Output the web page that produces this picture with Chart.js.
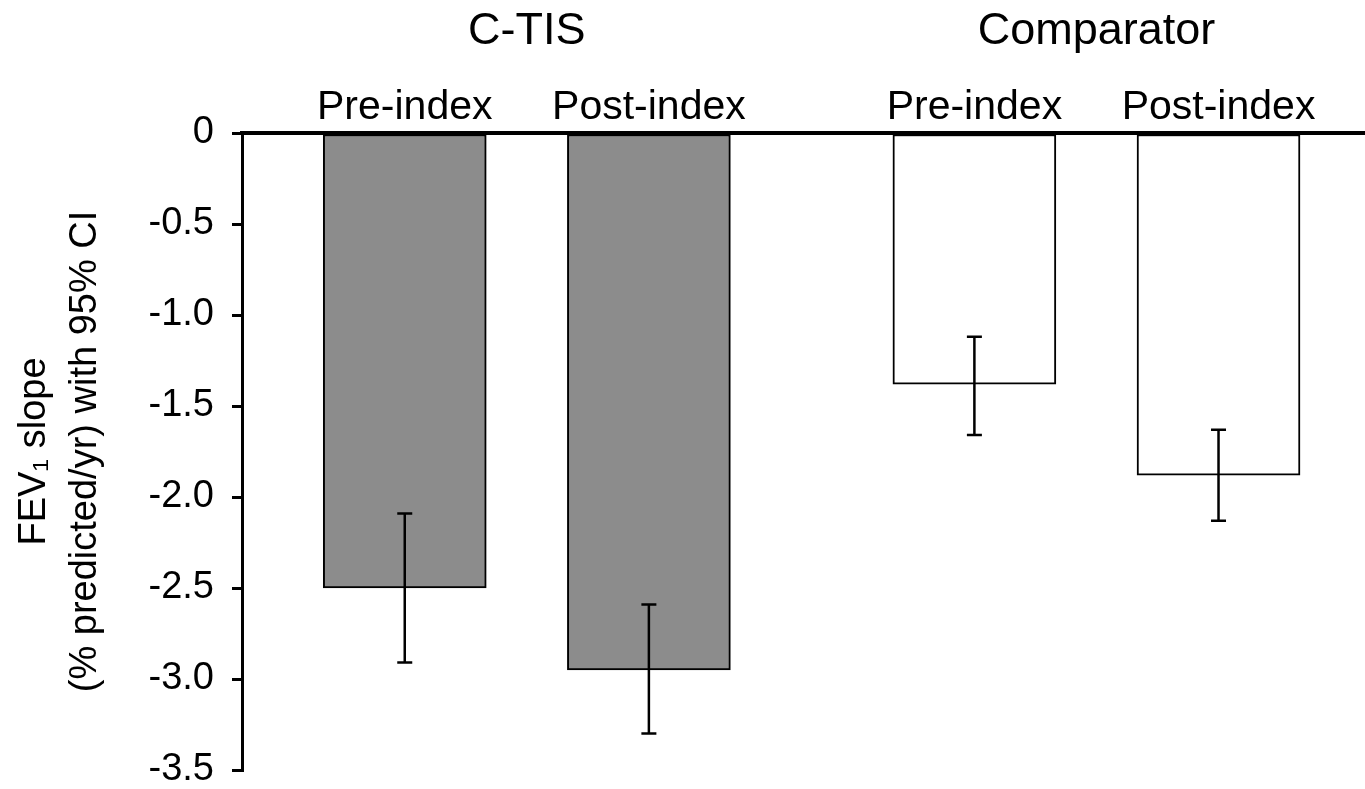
<!DOCTYPE html>
<html>
<head>
<meta charset="utf-8">
<script src="https://cdn.jsdelivr.net/npm/chart.js@4"></script>
<style>
  html, body { margin: 0; padding: 0; background: #fff; }
  #wrap { width: 1365px; height: 789px; }
</style>
</head>
<body>
<div id="wrap"><canvas id="fev-chart"></canvas></div>
<script>
// data
const groups = ['C-TIS', 'Comparator'];
const periods = ['Pre-index', 'Post-index', 'Pre-index', 'Post-index'];
const slope = [-2.50, -2.95, -1.38, -1.88];
const ciLow = [-2.91, -3.30, -1.66, -2.13];
const ciHigh = [-2.09, -2.59, -1.12, -1.63];
const yTicks = [0, -0.5, -1.0, -1.5, -2.0, -2.5, -3.0, -3.5];

// slot layout on the x scale (bars in pairs, gap between groups)
const slots = [2, 5, 9, 12];
const groupSlots = [3.5, 10.5];
const fills = ['#8c8c8c', '#8c8c8c', '#ffffff', '#ffffff'];

const font = 'Liberation Sans, Arial, Helvetica, sans-serif';

const errorBars = {
    id: 'errorBars',
    afterDatasetsDraw(chart) {
        const ctx = chart.ctx;
        const y = chart.scales.y;
        const bars = chart.getDatasetMeta(0).data;
        ctx.save();
        ctx.strokeStyle = '#000';
        ctx.lineWidth = 2.5;
        bars.forEach((bar, i) => {
            const top = y.getPixelForValue(ciHigh[i]);
            const bot = y.getPixelForValue(ciLow[i]);
            ctx.beginPath();
            ctx.moveTo(bar.x, top);
            ctx.lineTo(bar.x, bot);
            ctx.moveTo(bar.x - 7.5, top);
            ctx.lineTo(bar.x + 7.5, top);
            ctx.moveTo(bar.x - 7.5, bot);
            ctx.lineTo(bar.x + 7.5, bot);
            ctx.stroke();
        });
        ctx.restore();
    }
};

let ctx = document.getElementById('fev-chart').getContext('2d');
// eslint-disable-next-line no-undef
new Chart(ctx, {
    type: 'bar',
    data: {
        datasets: [{
            data: slots.map((s, i) => ({ x: s, y: slope[i] })),
            backgroundColor: fills,
            borderColor: '#000',
            borderWidth: 2,
            borderSkipped: false,
            barThickness: 163
        }]
    },
    options: {
        responsive: true,
        maintainAspectRatio: false,
        animation: false,
        layout: { padding: { top: 0, right: 0, bottom: 19, left: 0 } },
        plugins: {
            legend: { display: false },
            tooltip: { enabled: false }
        },
        scales: {
            x: {
                type: 'linear',
                position: 'top',
                min: 0,
                max: 13.8,
                offset: false,
                weight: 0,
                afterBuildTicks: axis => { axis.ticks = slots.map(v => ({ value: v })); },
                afterFit: axis => { axis.height = 48; },
                ticks: {
                    autoSkip: false,
                    maxRotation: 0,
                    padding: 1,
                    color: '#000',
                    font: { family: font, size: 41 },
                    callback: (v, i) => periods[i]
                },
                grid: { display: false, drawTicks: false },
                border: { display: true, color: '#000', width: 4 }
            },
            x2: {
                type: 'linear',
                position: 'top',
                min: 0,
                max: 13.8,
                offset: false,
                weight: 1,
                afterBuildTicks: axis => { axis.ticks = groupSlots.map(v => ({ value: v })); },
                afterFit: axis => { axis.height = 85; },
                ticks: {
                    autoSkip: false,
                    maxRotation: 0,
                    padding: 26,
                    color: '#000',
                    font: { family: font, size: 45 },
                    callback: (v, i) => groups[i]
                },
                grid: { display: false, drawTicks: false },
                border: { display: false }
            },
            y: {
                min: -3.5,
                max: 0,
                afterBuildTicks: axis => { axis.ticks = yTicks.map(v => ({ value: v })); },
                afterFit: axis => {
                    axis.width = 242;
                    axis.paddingTop = 0;
                    axis.paddingBottom = 0;
                },
                ticks: {
                    padding: 18,
                    color: '#000',
                    font: { family: font, size: 38 },
                    callback: v => (v === 0 ? '0' : v.toFixed(1))
                },
                grid: {
                    drawOnChartArea: false,
                    drawTicks: true,
                    tickLength: 10,
                    lineWidth: 3,
                    color: '#000'
                },
                border: { display: true, color: '#000', width: 3 },
                title: {
                    display: true,
                    text: ['FEV\u2081 slope', '(% predicted/yr) with 95% CI'],
                    color: '#000',
                    font: { family: font, size: 38, lineHeight: 1.35 },
                    padding: { top: 9, bottom: 0 }
                }
            }
        }
    },
    plugins: [errorBars]
});
</script>
</body>
</html>
